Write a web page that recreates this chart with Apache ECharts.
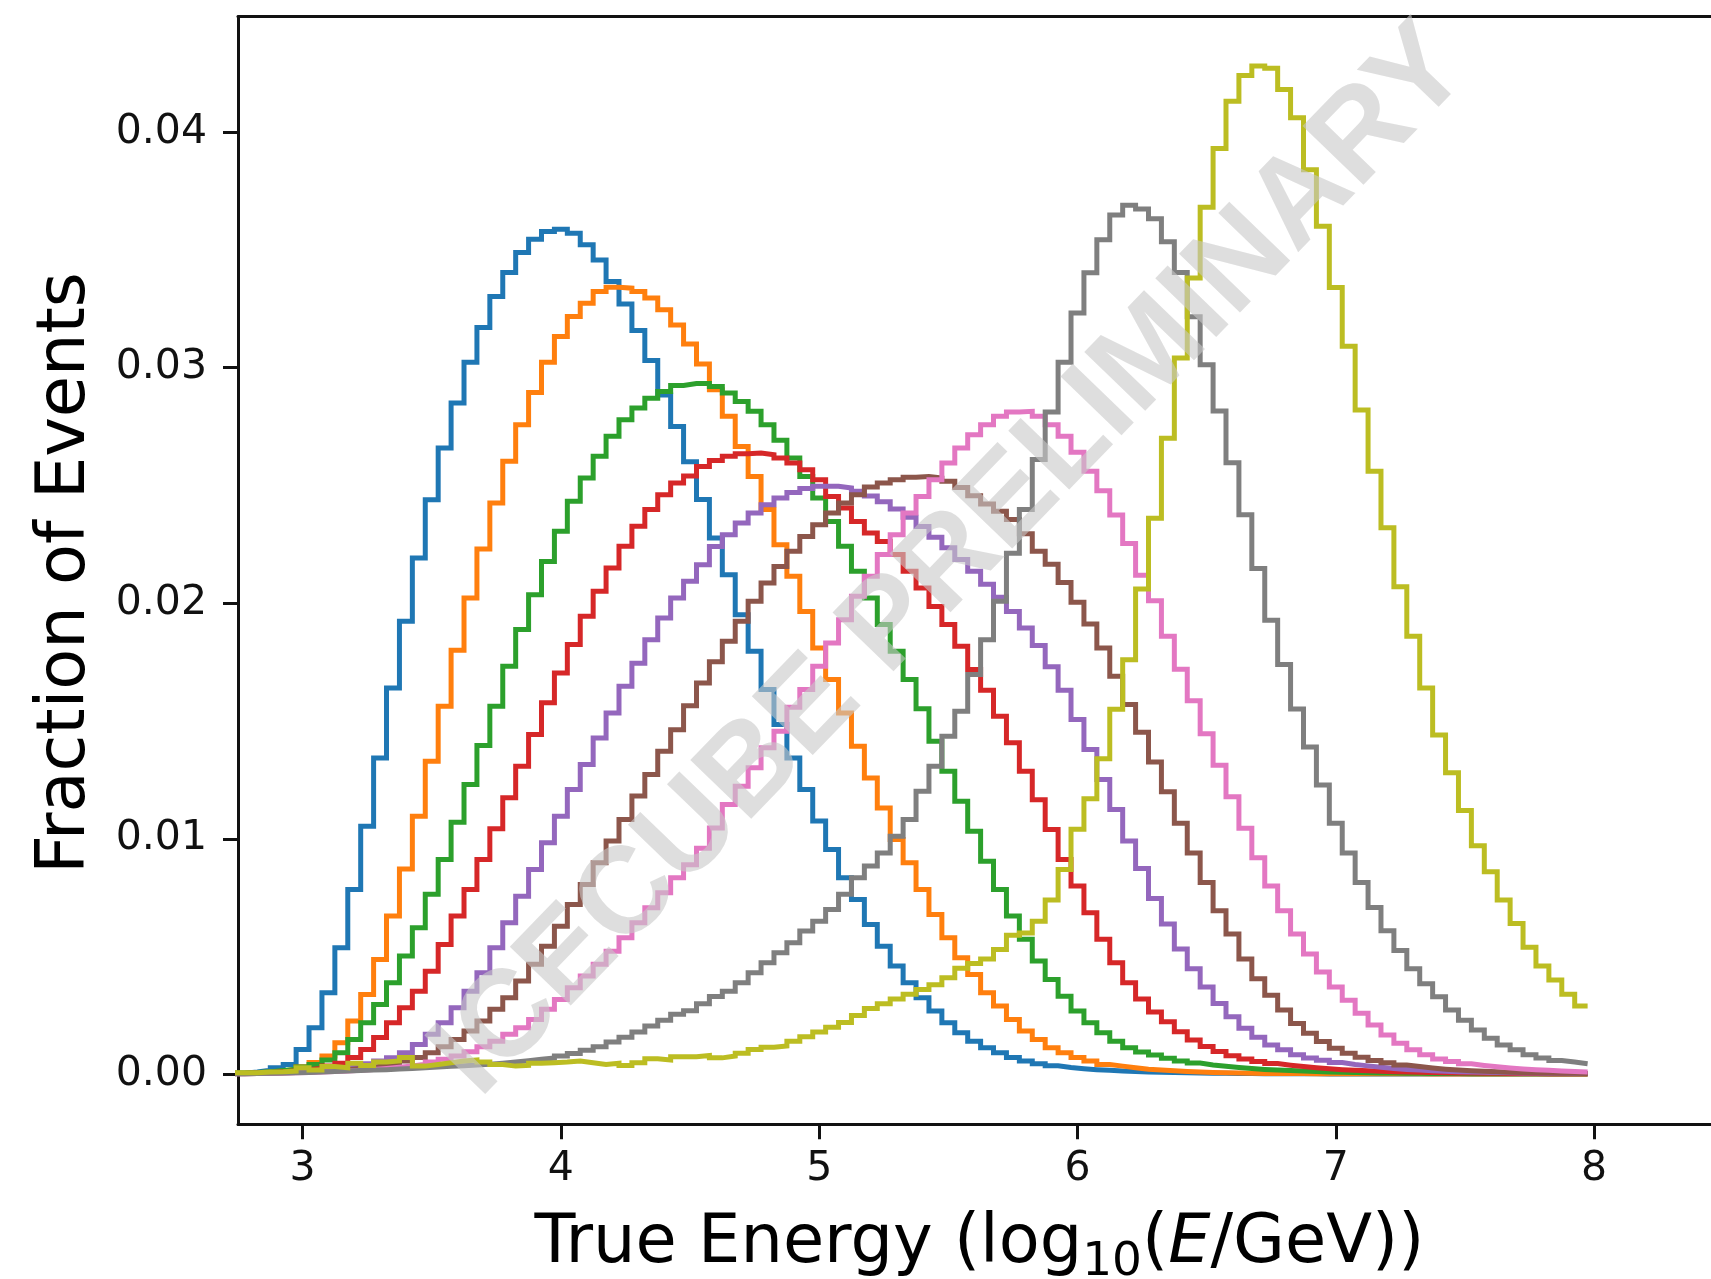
<!DOCTYPE html>
<html>
<head>
<meta charset="utf-8">
<script src="https://cdn.jsdelivr.net/npm/echarts@6/dist/echarts.min.js"></script>
<style>html,body{margin:0;padding:0;background:#fff}#c{width:1711px;height:1279px}</style>
</head>
<body>
<div id="c"></div>
<script>
// Bin centres: 2.75, 2.80, ... 7.95 (bin width 0.05)
const binStart = 2.75, binWidth = 0.05;
const xTicks = [3, 4, 5, 6, 7, 8];
const yTicks = [0, 0.01, 0.02, 0.03, 0.04];
const xTitle = ['True Energy (log', '10', '(', 'E', '/GeV))'];
const yTitle = 'Fraction of Events';
const watermark = 'ICECUBE PRELIMINARY';
const colors = ['#1f77b4','#ff7f0e','#2ca02c','#d62728','#9467bd','#8c564b','#e377c2','#7f7f7f','#bcbd22'];

const blue = [
0.00005,0.0001,0.00017,0.00028,0.00042,0.00106,0.00198,0.00346,0.00537,0.00785,
0.01053,0.01343,0.0164,0.01923,0.02192,0.02439,0.02658,0.02849,0.03022,0.0317,
0.03302,0.03403,0.03488,0.03545,0.03577,0.03587,0.0357,0.03521,0.03457,0.03365,
0.0327,0.03157,0.0303,0.02884,0.0275,0.026,0.0244,0.02277,0.02121,0.01951,
0.01796,0.01633,0.01485,0.01343,0.01209,0.01075,0.00954,0.00834,0.00742,0.00636,
0.00544,0.0046,0.00389,0.00325,0.00269,0.00219,0.00177,0.00141,0.00113,0.00092,
0.00071,0.00057,0.00045,0.00036,0.00029,0.00024,0.0002,0.00017,0.00014,0.00012,
0.0001,0.00009,0.00008,0.00007,0.00006,0.00005,0.00005,0.00004,0.00004,0.00003,
0.00003,0.00003,0.00003,0.00003,0.00002,0.00002,0.00002,0.00002,0.00002,0.00002,
0.00002,0.00002,0.00002,0.00001,0.00001,0.00001,0.00001,0.00001,0.00001,0.00001,
0.00001,0.00001,0.00001,0.00001,0.00001];
const orange = [
0.00005,0.00007,0.0001,0.00014,0.00021,0.00032,0.0005,0.00078,0.00134,0.00226,
0.00339,0.00488,0.00672,0.00872,0.01096,0.01329,0.01562,0.018,0.02022,0.0223,
0.02425,0.02602,0.02757,0.02894,0.03022,0.03132,0.03217,0.03273,0.03323,0.03341,
0.03337,0.03323,0.03295,0.03245,0.03181,0.031,0.03015,0.02906,0.02793,0.02665,
0.02538,0.02397,0.02248,0.02114,0.01965,0.0181,0.01676,0.01534,0.01393,0.01258,
0.01131,0.00997,0.00898,0.00785,0.00679,0.0058,0.00495,0.00424,0.00346,0.0029,
0.00233,0.00184,0.00148,0.00113,0.00092,0.00071,0.00057,0.00042,0.00035,0.00028,
0.00022,0.00018,0.00015,0.00012,0.0001,0.00008,0.00007,0.00006,0.00005,0.00004,
0.00004,0.00004,0.00004,0.00003,0.00003,0.00003,0.00003,0.00003,0.00003,0.00003,
0.00003,0.00003,0.00002,0.00002,0.00002,0.00002,0.00002,0.00002,0.00002,0.00002,
0.00002,0.00002,0.00002,0.00002,0.00002];
const green = [
0.00006,0.00008,0.00011,0.00016,0.00022,0.00031,0.00042,0.00061,0.00092,0.00148,
0.00219,0.00297,0.00389,0.00502,0.00622,0.00764,0.00912,0.0107,0.0123,0.01396,
0.01562,0.01732,0.01888,0.02036,0.02177,0.02305,0.02432,0.02531,0.02623,0.02708,
0.02778,0.02828,0.0287,0.02898,0.02924,0.02932,0.02932,0.0292,0.02892,0.02856,
0.02814,0.02757,0.02691,0.02616,0.02538,0.02446,0.02347,0.02241,0.02135,0.02022,
0.01909,0.01796,0.01676,0.01552,0.01414,0.01287,0.01159,0.01032,0.00905,0.00785,
0.00672,0.00573,0.00481,0.00403,0.00332,0.00269,0.00219,0.00177,0.00141,0.00113,
0.00095,0.00082,0.00068,0.00057,0.00048,0.0004,0.00034,0.00029,0.00025,0.00021,
0.00018,0.00016,0.00014,0.00012,0.0001,0.00009,0.00008,0.00007,0.00006,0.00006,
0.00005,0.00005,0.00004,0.00004,0.00004,0.00003,0.00003,0.00003,0.00003,0.00003,
0.00003,0.00003,0.00003,0.00003,0.00003];
const red = [
0.00004,0.00006,0.00008,0.00011,0.00015,0.0002,0.00026,0.00035,0.00047,0.00071,
0.00106,0.00156,0.00219,0.00283,0.00353,0.00438,0.00551,0.00672,0.00785,0.00912,
0.01042,0.01174,0.01308,0.01442,0.01577,0.01704,0.01824,0.01944,0.0205,0.02149,
0.02241,0.02326,0.02397,0.0246,0.0251,0.0254,0.0258,0.02605,0.02623,0.02634,
0.02637,0.0263,0.02616,0.02595,0.02566,0.02524,0.02453,0.02404,0.02347,0.02298,
0.02262,0.02206,0.02135,0.02064,0.01986,0.01909,0.01817,0.01718,0.0163,0.0152,
0.01407,0.01287,0.01166,0.01039,0.00912,0.00799,0.00686,0.00573,0.00474,0.00389,
0.0032,0.00265,0.00223,0.00181,0.00146,0.00118,0.00097,0.00079,0.00065,0.00055,
0.00046,0.00039,0.00033,0.00028,0.00024,0.0002,0.00017,0.00015,0.00013,0.00011,
0.0001,0.00009,0.00008,0.00007,0.00006,0.00006,0.00005,0.00005,0.00004,0.00004,
0.00004,0.00003,0.00003,0.00003,0.00003];
const purple = [
0.00004,0.00005,0.00006,0.00008,0.00011,0.00014,0.00018,0.00023,0.00029,0.00036,
0.00045,0.00057,0.0007,0.00092,0.00127,0.0017,0.00219,0.00283,0.00353,0.00431,
0.00537,0.00643,0.00756,0.0087,0.00983,0.01096,0.01209,0.01315,0.01428,0.01534,
0.01647,0.01745,0.01845,0.01937,0.02022,0.02093,0.02163,0.0224,0.0229,0.0234,
0.02383,0.02418,0.02446,0.0247,0.02487,0.02496,0.02496,0.02489,0.02475,0.02455,
0.0243,0.024,0.02365,0.02325,0.0228,0.02235,0.02185,0.02135,0.0208,0.02025,
0.01965,0.01895,0.0182,0.0173,0.0163,0.01506,0.01379,0.01251,0.01124,0.0099,
0.00874,0.00746,0.00638,0.00532,0.00448,0.00371,0.00301,0.00244,0.00196,0.00157,
0.00125,0.00104,0.00083,0.00069,0.0006,0.0005,0.00042,0.00036,0.0003,0.00025,
0.00021,0.00018,0.00015,0.00013,0.00011,0.0001,0.00009,0.00008,0.00007,0.00006,
0.00006,0.00005,0.00005,0.00004,0.00004];
const brown = [
0.00003,0.00004,0.00005,0.00006,0.00008,0.0001,0.00013,0.00016,0.0002,0.00025,
0.0003,0.00038,0.00046,0.00057,0.00071,0.00092,0.00117,0.00148,0.00184,0.00226,
0.00276,0.00325,0.00396,0.00467,0.00544,0.00629,0.00721,0.00806,0.00898,0.0099,
0.01082,0.01181,0.01273,0.01371,0.01463,0.01565,0.01661,0.01751,0.01838,0.01923,
0.02008,0.02086,0.02156,0.0222,0.02283,0.02333,0.02383,0.02425,0.0246,0.02493,
0.0251,0.02524,0.02534,0.02538,0.02531,0.02517,0.02491,0.02456,0.02421,0.0239,
0.02355,0.02295,0.0222,0.02165,0.02088,0.02004,0.01912,0.0181,0.0169,0.0157,
0.01452,0.01326,0.012,0.01066,0.0094,0.00814,0.00694,0.00596,0.0049,0.00406,
0.00336,0.00273,0.00216,0.00174,0.00139,0.00111,0.0009,0.00073,0.00059,0.00049,
0.0004,0.00033,0.00027,0.00022,0.00018,0.00015,0.00013,0.00011,0.00009,0.00008,
0.00007,0.00006,0.00005,0.00005,0.00004];
const pink = [
0.00003,0.00004,0.00005,0.00006,0.00007,0.00008,0.0001,0.00012,0.00014,0.00017,
0.00021,0.00025,0.0003,0.00036,0.00043,0.00052,0.00064,0.00078,0.00096,0.00117,
0.00141,0.0017,0.00198,0.00233,0.00276,0.00318,0.00368,0.00417,0.00467,0.00523,
0.0058,0.00643,0.00707,0.00771,0.00834,0.0089,0.0096,0.01046,0.01145,0.01223,
0.01301,0.01386,0.01456,0.01558,0.01633,0.01732,0.01831,0.0193,0.02029,0.02114,
0.02206,0.0229,0.02383,0.02453,0.02524,0.02595,0.02658,0.02715,0.02757,0.02793,
0.02811,0.02814,0.02793,0.02757,0.02708,0.0264,0.0256,0.02477,0.02374,0.02253,
0.02118,0.0201,0.0186,0.01719,0.01586,0.01446,0.01312,0.01178,0.01045,0.00919,
0.00799,0.00694,0.00596,0.00511,0.00434,0.00371,0.00315,0.00259,0.0021,0.00167,
0.00132,0.00104,0.00083,0.00065,0.00055,0.00045,0.00038,0.00032,0.00027,0.00023,
0.0002,0.00017,0.00014,0.00012,0.0001];
const gray = [
0.00003,0.00004,0.00005,0.00006,0.00007,0.00008,0.0001,0.00012,0.00014,0.00016,
0.00018,0.0002,0.00023,0.00025,0.00028,0.00031,0.00034,0.00037,0.0004,0.00043,
0.00047,0.00052,0.00058,0.00064,0.00069,0.00078,0.00088,0.00102,0.00117,0.00137,
0.00158,0.0018,0.00205,0.0023,0.00255,0.0027,0.003,0.0033,0.00353,0.00389,
0.00431,0.00474,0.00516,0.00559,0.00608,0.0065,0.007,0.00764,0.00834,0.00884,
0.0094,0.01011,0.01082,0.01202,0.01308,0.01435,0.01541,0.01697,0.01845,0.02008,
0.02212,0.02398,0.0261,0.02811,0.03023,0.03231,0.03402,0.03542,0.03648,0.03689,
0.03673,0.03632,0.03534,0.03403,0.03216,0.03012,0.02816,0.02596,0.02375,0.02147,
0.01927,0.0174,0.01551,0.01389,0.01228,0.01066,0.0094,0.00814,0.00708,0.0061,
0.00526,0.00448,0.00385,0.00329,0.00273,0.0023,0.00188,0.00153,0.00125,0.00104,
0.00083,0.00069,0.00059,0.00052,0.00045];
const olive = [
0.00007,0.00007,0.0001,0.00011,0.00014,0.00028,0.00018,0.00033,0.00028,0.00047,
0.00038,0.00052,0.00057,0.00071,0.00035,0.00042,0.00049,0.00057,0.00061,0.00052,
0.00042,0.00035,0.00038,0.00047,0.00049,0.00052,0.00057,0.00049,0.00042,0.00047,
0.00038,0.00049,0.00066,0.00061,0.00075,0.00075,0.0008,0.0007,0.00078,0.0009,
0.00105,0.00115,0.0012,0.0014,0.0016,0.0018,0.002,0.0022,0.0025,0.0028,
0.003,0.0032,0.0034,0.0036,0.0038,0.0041,0.0045,0.0047,0.0049,0.0053,
0.0059,0.006,0.0065,0.0074,0.0087,0.0104,0.0117,0.0134,0.0155,0.0176,
0.0206,0.0236,0.027,0.0304,0.0338,0.0368,0.0393,0.0413,0.0424,0.0428,
0.0427,0.0418,0.0406,0.0384,0.036,0.0334,0.0309,0.0282,0.0256,0.0232,
0.0207,0.0186,0.0164,0.0144,0.0128,0.0112,0.0097,0.0086,0.0074,0.0064,
0.0054,0.0046,0.004,0.0034,0.0029];

const allSeries = [blue, orange, green, red, purple, brown, pink, gray, olive];

function stepData(vals) {
  const pts = [];
  for (let i = 0; i < vals.length; i++) {
    const left = +(binStart + binWidth * i - binWidth / 2).toFixed(4);
    pts.push([left, vals[i]]);
  }
  const lastRight = +(binStart + binWidth * (vals.length - 1) + binWidth / 2).toFixed(4);
  pts.push([lastRight, vals[vals.length - 1]]);
  return pts;
}

const W = 1711, H = 1279;
const gridLeft = 238, gridTop = 16.5, gridBottom = 154.7;
const xMin = 2.75, xMax = 2.75 + (W - gridLeft) / 258.3;
const yMin = -0.00212, yMax = 0.0449;

// text measurement for the composite x title
const mctx = document.createElement('canvas').getContext('2d');
function tw(font, s) { mctx.font = font; return mctx.measureText(s).width; }
const FS = 67, FSS = 47, FAM = '"DejaVu Sans"';
const fMain = FS + 'px ' + FAM, fSub = FSS + 'px ' + FAM, fIt = 'italic ' + FS + 'px ' + FAM;
const parts = [
  {t: xTitle[0], f: fMain, size: FS, style: 'normal', dy: 0},
  {t: xTitle[1], f: fSub, size: FSS, style: 'normal', dy: 11},
  {t: xTitle[2], f: fMain, size: FS, style: 'normal', dy: 0},
  {t: xTitle[3], f: fIt, size: FS, style: 'italic', dy: 0},
  {t: xTitle[4], f: fMain, size: FS, style: 'normal', dy: 0}
];
let totalW = 0; parts.forEach(p => { p.w = tw(p.f, p.t); totalW += p.w; });
const titleCX = 979.4, baseline = 1268;
let cx = titleCX - totalW / 2;
const graphics = [];
parts.forEach(p => {
  graphics.push({
    type: 'text', x: cx, y: baseline + p.dy - 0.346 * p.size, z: 50,
    style: {text: p.t, fontSize: p.size, fontFamily: 'DejaVu Sans', fontStyle: p.style,
            fill: '#000', align: 'left', verticalAlign: 'middle'}
  });
  cx += p.w;
});
graphics.push({
  type: 'text', x: 67, y: 573, rotation: Math.PI / 2, z: 50,
  style: {text: yTitle, fontSize: FS, fontFamily: 'DejaVu Sans', fill: '#000', align: 'center', verticalAlign: 'middle'}
});
graphics.push({
  type: 'text', x: 952, y: 562, rotation: 46 * Math.PI / 180, z: 100,
  style: {text: watermark, fontSize: 123, fontWeight: 'bold', fontFamily: 'Liberation Sans',
          fill: 'rgba(200,200,200,0.6)', align: 'center', verticalAlign: 'middle'}
});

const axisColor = '#111';
const chart = echarts.init(document.getElementById('c'), null, {renderer: 'canvas', width: W, height: H});
chart.setOption({
  animation: false,
  backgroundColor: '#ffffff',
  grid: {left: gridLeft, right: 0, top: gridTop, bottom: gridBottom, containLabel: false},
  xAxis: [{
    type: 'value', min: xMin, max: xMax, position: 'bottom',
    axisLine: {show: true, onZero: false, lineStyle: {color: axisColor, width: 3}},
    axisTick: {show: true, length: 15, inside: false, customValues: xTicks, lineStyle: {color: axisColor, width: 3}},
    axisLabel: {show: true, customValues: xTicks, margin: 25, fontSize: 41, fontFamily: 'DejaVu Sans', color: '#111',
                formatter: v => String(Math.round(v))},
    splitLine: {show: false}
  }, {
    type: 'value', min: xMin, max: xMax, position: 'top',
    axisLine: {show: true, onZero: false, lineStyle: {color: axisColor, width: 3}},
    axisTick: {show: false}, axisLabel: {show: false}, splitLine: {show: false}
  }],
  yAxis: {
    type: 'value', min: yMin, max: yMax,
    axisLine: {show: true, onZero: false, lineStyle: {color: axisColor, width: 3}},
    axisTick: {show: true, length: 15, customValues: yTicks, lineStyle: {color: axisColor, width: 3}},
    axisLabel: {show: true, customValues: yTicks, margin: 31, fontSize: 41, fontFamily: 'DejaVu Sans', color: '#111',
                formatter: v => v.toFixed(2)},
    splitLine: {show: false}
  },
  series: allSeries.map((vals, i) => ({
    type: 'line', step: 'end', data: stepData(vals), xAxisIndex: 0, yAxisIndex: 0,
    symbol: 'none', showSymbol: false, clip: true, silent: true,
    lineStyle: {color: colors[i], width: 5, cap: 'butt', join: 'miter'},
    z: 2 + i * 0.01
  })),
  graphic: graphics
});
</script>
</body>
</html>
